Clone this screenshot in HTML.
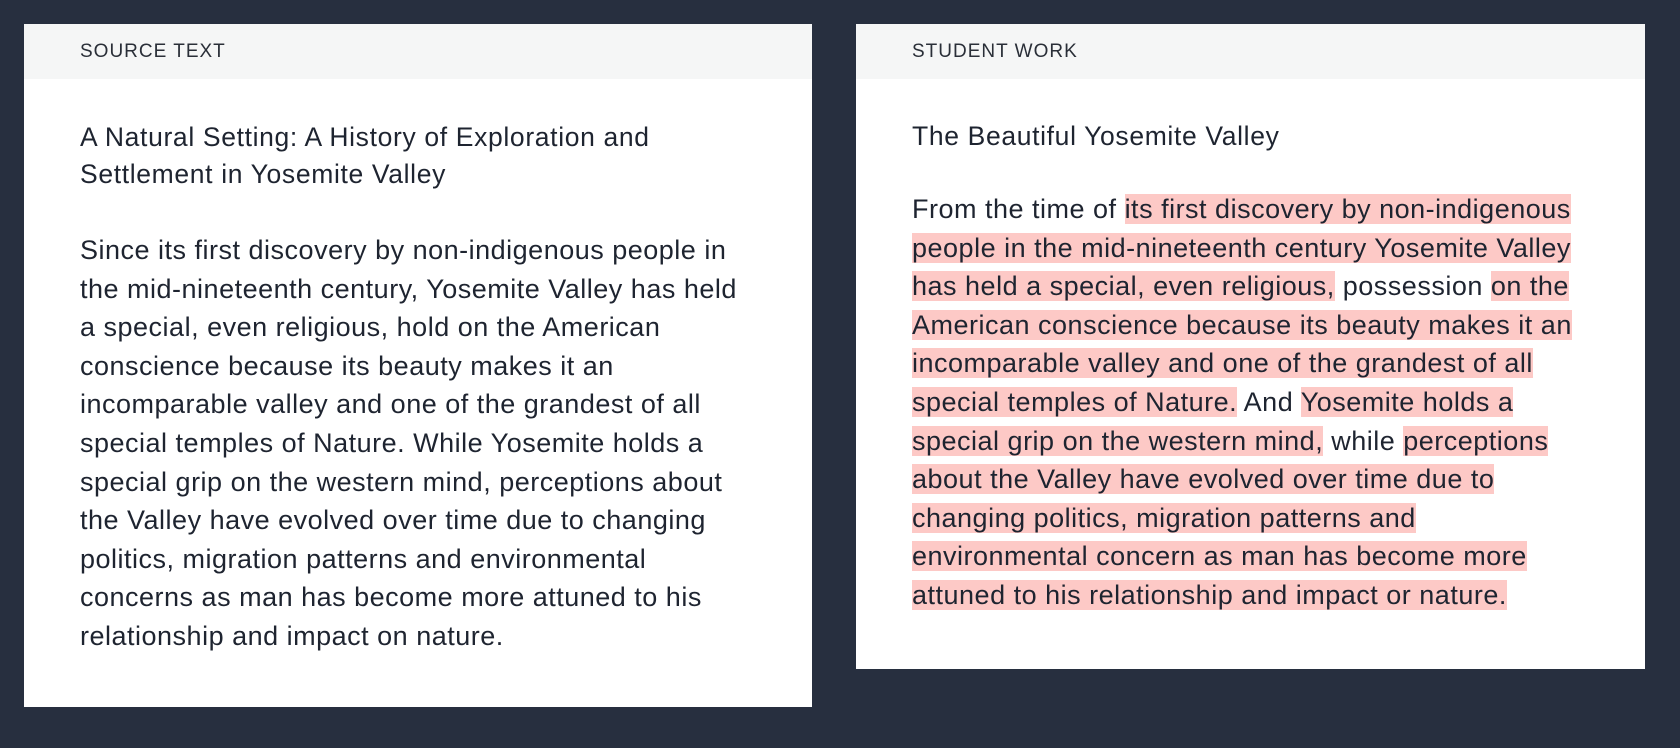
<!DOCTYPE html>
<html><head><meta charset="utf-8"><style>
body{margin:0;width:1680px;height:748px;background:#272f3f;font-family:"Liberation Sans",sans-serif;overflow:hidden;position:relative}
.panel{position:absolute;background:#fff}
.hdr{position:absolute;left:0;top:0;right:0;height:55px;background:#f5f6f6;}
.hdr span{position:absolute;left:56px;top:17px;font-size:19px;color:#2a2f38;letter-spacing:1px}
.title{position:absolute;font-size:26.5px;line-height:37px;color:#1e2430;white-space:nowrap;letter-spacing:0.65px}
.body{position:absolute;font-size:27px;line-height:38.6px;color:#1e2430;white-space:nowrap;letter-spacing:0.5px}
.hl{background:#fdc9c6;padding:0}
</style></head><body>
<div class="panel" style="left:24px;top:24px;width:788px;height:683px">
  <div class="hdr"><span>SOURCE TEXT</span></div>
  <div class="title" style="left:56px;top:95px">A Natural Setting: A History of Exploration and<br>Settlement in Yosemite Valley</div>
  <div class="body" style="left:56px;top:207px">Since its first discovery by non-indigenous people in<br>the mid-nineteenth century, Yosemite Valley has held<br>a special, even religious, hold on the American<br>conscience because its beauty makes it an<br>incomparable valley and one of the grandest of all<br>special temples of Nature. While Yosemite holds a<br>special grip on the western mind, perceptions about<br>the Valley have evolved over time due to changing<br>politics, migration patterns and environmental<br>concerns as man has become more attuned to his<br>relationship and impact on nature.</div>
</div>
<div class="panel" style="left:856px;top:24px;width:789px;height:645px">
  <div class="hdr"><span>STUDENT WORK</span></div>
  <div class="title" style="left:56px;top:94px">The Beautiful Yosemite Valley</div>
  <div class="body" style="left:56px;top:166px">From the time of <span class="hl">its first discovery by non-indigenous</span><br><span class="hl">people in the mid-nineteenth century Yosemite Valley</span><br><span class="hl">has held a special, even religious,</span> possession <span class="hl">on the</span><br><span class="hl">American conscience because its beauty makes it an</span><br><span class="hl">incomparable valley and one of the grandest of all</span><br><span class="hl">special temples of Nature.</span> And <span class="hl">Yosemite holds a</span><br><span class="hl">special grip on the western mind,</span> while <span class="hl">perceptions</span><br><span class="hl">about the Valley have evolved over time due to</span><br><span class="hl">changing politics, migration patterns and</span><br><span class="hl">environmental concern as man has become more</span><br><span class="hl">attuned to his relationship and impact or nature.</span></div>
</div>
</body></html>
